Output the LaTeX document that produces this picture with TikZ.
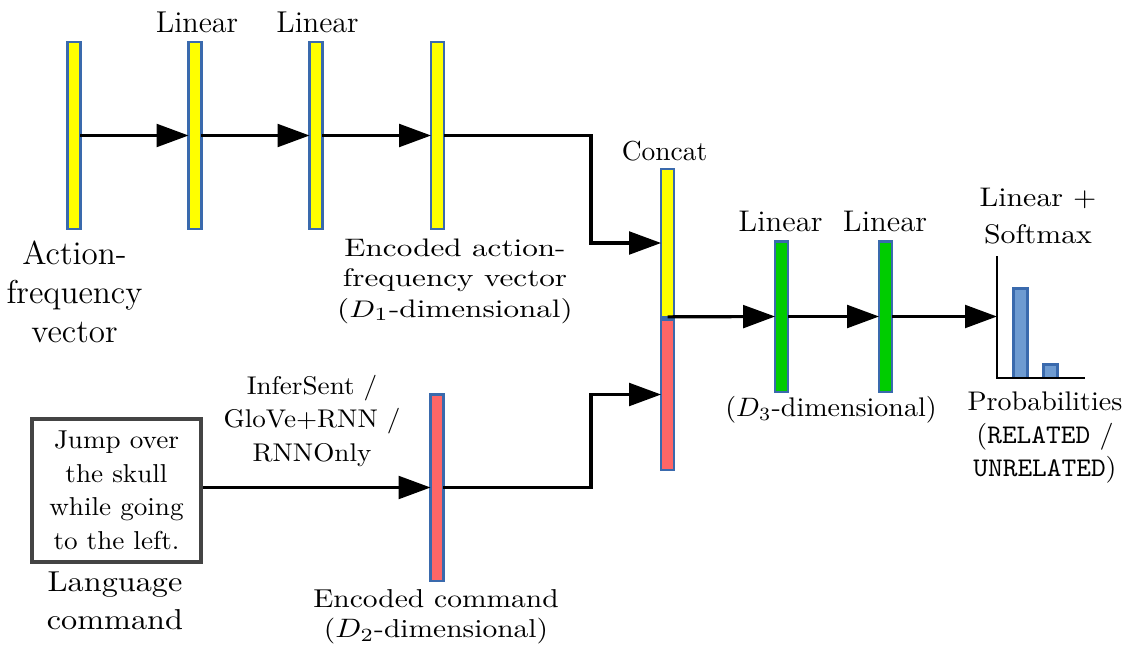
\documentclass[tikz,border=0pt]{standalone}
\usepackage{fontspec}
\usetikzlibrary{arrows.meta,calc}
\definecolor{barblue}{HTML}{3A6AAD}
\definecolor{yel}{HTML}{FFFF00}
\definecolor{redf}{HTML}{FF6666}
\definecolor{grn}{HTML}{00CC00}
\definecolor{probf}{HTML}{6E9BD1}
\definecolor{boxgray}{HTML}{444444}
\newcommand\hs[2]{\scalebox{#1}[1]{#2}}
\newcommand\fs[2]{\fontsize{#1}{#2}\selectfont}
\begin{document}
\begin{tikzpicture}[x=0.375pt,y=-0.375pt,
 vbar/.style={draw=barblue, line width=1pt, minimum width=4.8pt, inner sep=0pt, outer sep=0pt, rectangle},
 pbar/.style={draw=barblue, fill=probf, line width=1.1pt, minimum width=5.5pt, inner sep=0pt, outer sep=0pt, rectangle, anchor=south},
 arr/.style={line width=1.2pt, -{Triangle[length=12pt,width=8.5pt]}},
 axis/.style={line width=1pt},
 lbl/.style={inner sep=0pt, anchor=base, align=center},
]
\useasboundingbox (0,0) rectangle (1131,656);

% top row bars
\node[vbar, fill=yel, minimum height=70pt] (a1) at (74,135.5) {};
\node[vbar, fill=yel, minimum height=70pt] (a2) at (195,135.5) {};
\node[vbar, fill=yel, minimum height=70pt] (a3) at (316,135.5) {};
\node[vbar, fill=yel, minimum height=70pt] (a4) at (437.5,135.5) {};
% concat
\node[vbar, fill=yel, minimum height=55.4pt] (cy) at (667.5,243) {};
\node[vbar, fill=redf, minimum height=56.5pt] (cr) at (667.5,394.5) {};
% green
\node[vbar, fill=grn, minimum height=56.5pt] (g1) at (781.5,316.5) {};
\node[vbar, fill=grn, minimum height=56.5pt] (g2) at (885.5,316.5) {};
% encoded command
\node[vbar, fill=redf, minimum height=70pt] (rb) at (437,487.5) {};
% command box
\node[draw=boxgray, line width=1.5pt, minimum width=63.4pt, minimum height=53.6pt, inner sep=0pt, align=center, font=\fs{9.7}{12.6}] (box) at (116.5,490.5)
 {\hs{1.05}{Jump over}\\\hs{1.05}{the skull}\\\hs{1.05}{while going}\\\hs{1.05}{to the left.}};

% axes and probability bars
\coordinate (axt) at (997,256);
\coordinate (axo) at (997,378);
\coordinate (axe) at (1085,378);
\node[pbar, minimum height=33.6pt] (p1) at (1020.5,378) {};
\node[pbar, minimum height=5.1pt] (p2) at (1050.5,378) {};
\draw[axis] (axt) -- (axo) -- (axe);

% connectors
\coordinate (j) at (591,0);
\draw[arr] (a1) -- (a2);
\draw[arr] (a2) -- (a3);
\draw[arr] (a3) -- (a4);
\draw[arr] (a4.east) -| (j |- cy.west) -- (cy.west);
\draw[arr] (box.east |- rb.west) -- (rb.west);
\draw[arr] (rb.east) -| (j |- cr.west) -- (cr.west);
\draw[arr] (cy.south) -- (g1.west);
\draw[arr] (g1) -- (g2);
\draw[arr] (g2.east) -- (g2.east -| axo);

% labels (anchor=base is the baseline of the last line)
\node[lbl, font=\fs{12.4}{14.6}] (lact) at (74.5,342) {Action-\\frequency\\vector};
\node[lbl, font=\fs{10.8}{13.9}] (llang) at (115,629) {\hs{1.12}{Language}\\\hs{1.12}{command}};
\node[lbl, font=\fs{11.3}{13}] (llin1) at (197,33) {Linear};
\node[lbl, font=\fs{11.3}{13}] (llin2) at (317.5,33) {Linear};
\node[lbl, font=\fs{9.5}{11.4}] (lenca) at (455,317) {\hs{1.23}{Encoded action-}\\\hs{1.23}{frequency vector}\\\hs{1.23}{($D_1$-dimensional)}};
\node[lbl, font=\fs{10.3}{12}] (lconcat) at (664.5,160.7) {Concat};
\node[lbl, font=\fs{11.2}{13}] (llin3) at (780.5,231.7) {\hs{1.03}{Linear}};
\node[lbl, font=\fs{11.2}{13}] (llin4) at (885,231.7) {\hs{1.03}{Linear}};
\node[lbl, font=\fs{10.1}{13.7}] (lsoft) at (1038,243.3) {\hs{1.11}{Linear +}\\\hs{1.11}{Softmax}};
\node[lbl, font=\fs{10.1}{12}] (ld3) at (831,416.7) {\hs{1.04}{($D_3$-dimensional)}};
\node[lbl, font=\fs{10.1}{12.5}] (lprob) at (1045,476.7) {\hs{1.04}{Probabilities}\\\hs{1.04}{(\texttt{RELATED} /}\\\hs{1.04}{\texttt{UNRELATED})}};
\node[lbl, font=\fs{9.6}{12.4}] (linfer) at (312,461) {\hs{1.06}{InferSent /}\\\hs{1.06}{GloVe+RNN /}\\\hs{1.06}{RNNOnly}};
\node[lbl, font=\fs{9.7}{10.9}] (lencc) at (436,637) {\hs{1.14}{Encoded command}\\\hs{1.14}{($D_2$-dimensional)}};
\end{tikzpicture}
\end{document}
